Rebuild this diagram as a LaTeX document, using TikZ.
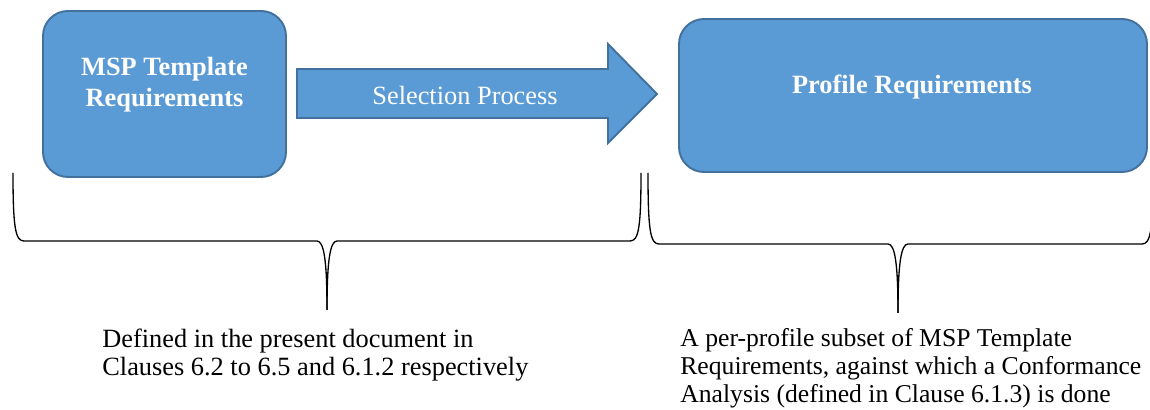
\documentclass[tikz,border=0pt]{standalone}
\usepackage{fontspec}
\setmainfont{Liberation Serif}
\usetikzlibrary{calc}
\definecolor{boxblue}{HTML}{5B9BD5}
\definecolor{boxedge}{HTML}{41719C}
% brace: (left x:middle x:right x)(top y:bar y:tip y)
\def\bigbrace(#1:#2:#3)(#4:#5:#6){%
	\draw[bracepath] (#1, #4) .. controls (#1, {#5+0.25}) and ({#1+0.05}, #5) .. ({#1+0.22}, #5) -- ({#2-0.2}, #5) .. controls ({#2-0.06}, #5) and (#2, {#5-0.4}) .. (#2, #6);
	\draw[bracepath] (#3, #4) .. controls (#3, {#5+0.25}) and ({#3-0.05}, #5) .. ({#3-0.22}, #5) -- ({#2+0.2}, #5) .. controls ({#2+0.06}, #5) and (#2, {#5-0.4}) .. (#2, #6);}

\begin{document}
\begin{tikzpicture}[
	reqbox/.style={draw=boxedge, fill=boxblue, line width=1.1pt, rounded corners=0.5cm},
	arrowbody/.style={draw=boxedge, fill=boxblue, line width=1.1pt},
	boxtext/.style={text=white, font=\fontsize{15}{17.6}\selectfont\bfseries, align=center, inner sep=0},
	arrowtext/.style={text=white, font=\fontsize{15}{15.6}\selectfont, inner sep=0},
	notetext/.style={font=\fontsize{15}{15.9}\selectfont, align=left, anchor=north west, inner sep=0},
	bracepath/.style={line width=0.75pt, color=black}
	]
		%%%%% START %%%%%
		
		\useasboundingbox (0, 0) rectangle (23, 8.2);
		\clip (0, 0) rectangle (23, 8.2);
		
		\node[reqbox, minimum width=4.86cm, minimum height=3.32cm] (msp) at (3.29, 6.32) {};
		\node[boxtext] (msptxt) at (3.29, 6.5) {MSP Template\\Requirements};
		
		\node[reqbox, minimum width=9.36cm, minimum height=3.06cm] (prof) at (18.26, 6.29) {};
		\node[boxtext] (proftxt) at (18.24, 6.46) {Profile Requirements};
		
		\coordinate (selstart) at (5.94, 6.32);
		\coordinate (seltip) at (13.14, 6.32);
		\draw[arrowbody] (selstart) ++(0, 0.5) -- ++(6.22, 0) -- ++(0, 0.5) -- (seltip) -- ++(-0.98, -0.98) -- ++(0, 0.5) -- ++(-6.22, 0) -- cycle;
		\node[arrowtext] (seltxt) at (9.3, 6.3) {Selection Process};
		
		\bigbrace(0.26:6.54:12.82)(4.74:3.38:2.0)
		\bigbrace(12.96:17.96:23.06)(4.74:3.32:1.94)
		
		\node[notetext] (leftnote) at (2.04, 1.62) {Defined in the present document in\\Clauses 6.2 to 6.5 and 6.1.2 respectively};
		\node[notetext, font=\fontsize{14.6}{15.9}\selectfont] (rightnote) at (13.6, 1.64) {A per-profile subset of MSP Template\\Requirements, against which a Conformance\\Analysis (defined in Clause 6.1.3) is done};
		
		%%%%% END %%%%%
	\end{tikzpicture}
\end{document}
